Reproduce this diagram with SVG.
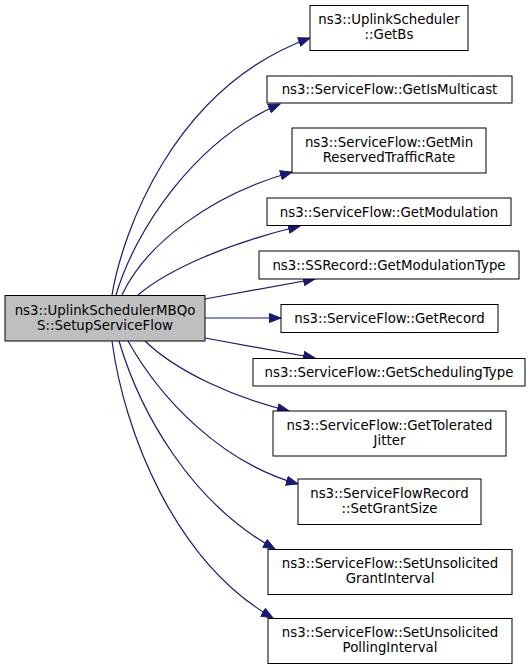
<svg xmlns="http://www.w3.org/2000/svg" width="531" height="669" viewBox="0 0 531 669">
<style>
.n rect{fill:#ffffff;stroke:#000000;stroke-width:1}
.n.main rect{fill:#bfbfbf}
text{font-family:"DejaVu Sans","Liberation Sans",sans-serif;font-size:13.33px;fill:#000000;text-anchor:middle}
.e path{fill:none;stroke:#191970;stroke-width:1.2;marker-end:url(#arr)}
</style>
<defs>
<marker id="arr" markerUnits="userSpaceOnUse" markerWidth="13" markerHeight="10" refX="12" refY="5" orient="auto">
<path d="M0.5,0.5 L12,5 L0.5,9.5 z" fill="#191970" stroke="#191970" stroke-width="1"/>
</marker>
</defs>
<rect width="531" height="669" fill="#ffffff"/>
<g id="connectors" class="e">
<path d="M112,295 C122,235 172,88 310,38"/>
<path d="M116,295 C135,230 195,140 280,104"/>
<path d="M122,295 C145,245 210,195 292,172"/>
<path d="M138,295 C170,268 230,243 300,226"/>
<path d="M205,299 L315,279"/>
<path d="M205,318 L281,318"/>
<path d="M205,338 L315,358"/>
<path d="M145,341 C177,372 235,398 289,411"/>
<path d="M128,341 C160,398 220,462 298,484"/>
<path d="M119,341 C140,412 190,502 275,549"/>
<path d="M112,341 C124,432 175,562 273,618"/>
</g>
<g id="main" class="n main"><rect x="5" y="295.5" width="200" height="45.5"/><text x="105" y="314.5">ns3::UplinkSchedulerMBQo</text><text x="105" y="329.5">S::SetupServiceFlow</text></g>
<g id="getbs" class="n"><rect x="310" y="5.5" width="158" height="45"/><text x="389" y="24">ns3::UplinkScheduler</text><text x="389" y="39">::GetBs</text></g>
<g id="getismulticast" class="n"><rect x="267" y="76" width="245" height="27"/><text x="389.5" y="94">ns3::ServiceFlow::GetIsMulticast</text></g>
<g id="getmin" class="n"><rect x="292" y="128" width="194" height="45"/><text x="389" y="146.5">ns3::ServiceFlow::GetMin</text><text x="389" y="161.5">ReservedTrafficRate</text></g>
<g id="getmodulation" class="n"><rect x="267" y="198" width="244" height="27.5"/><text x="389" y="216.5">ns3::ServiceFlow::GetModulation</text></g>
<g id="getmodulationtype" class="n"><rect x="259" y="251" width="260" height="28"/><text x="389" y="269.5">ns3::SSRecord::GetModulationType</text></g>
<g id="getrecord" class="n"><rect x="281" y="304.5" width="217" height="28"/><text x="389.5" y="323">ns3::ServiceFlow::GetRecord</text></g>
<g id="getschedulingtype" class="n"><rect x="253" y="358.5" width="272" height="27.5"/><text x="389" y="377">ns3::ServiceFlow::GetSchedulingType</text></g>
<g id="gettoleratedjitter" class="n"><rect x="273" y="411" width="233" height="45"/><text x="389.5" y="429.5">ns3::ServiceFlow::GetTolerated</text><text x="389.5" y="444.5">Jitter</text></g>
<g id="setgrantsize" class="n"><rect x="298" y="479" width="183" height="45.5"/><text x="389.5" y="497.5">ns3::ServiceFlowRecord</text><text x="389.5" y="512.5">::SetGrantSize</text></g>
<g id="setunsolicitedgrantinterval" class="n"><rect x="268" y="549.5" width="244" height="45"/><text x="390" y="568">ns3::ServiceFlow::SetUnsolicited</text><text x="390" y="583">GrantInterval</text></g>
<g id="setunsolicitedpollinginterval" class="n"><rect x="268" y="618.5" width="244" height="45"/><text x="390" y="637">ns3::ServiceFlow::SetUnsolicited</text><text x="390" y="652">PollingInterval</text></g>
</svg>
